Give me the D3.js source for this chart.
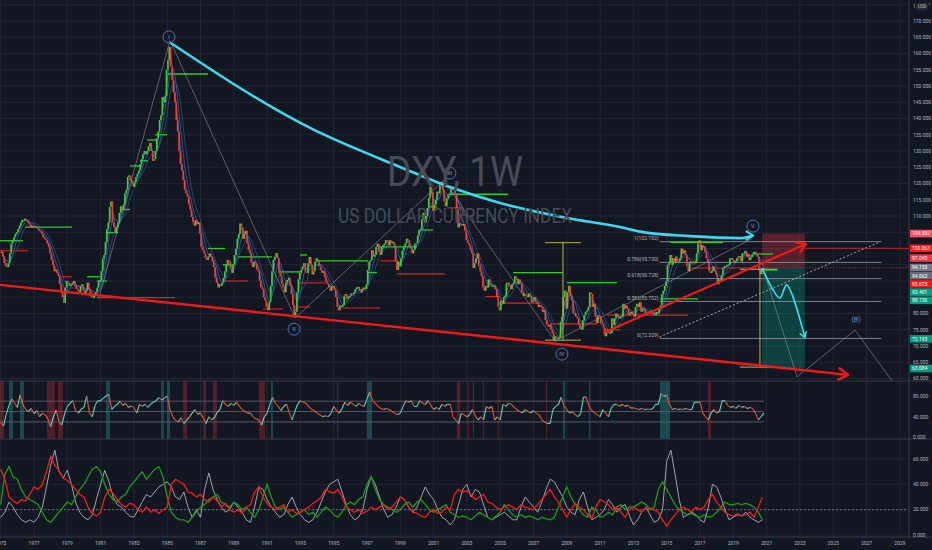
<!DOCTYPE html>
<html>
<head>
<meta charset="utf-8">
<script src="https://cdn.jsdelivr.net/npm/d3@7"></script>
<style>
body { margin: 0; background: #131722; overflow: hidden; }
text { font-family: Roboto, "Liberation Sans", sans-serif; }
</style>
</head>
<body>
<script>
// DXY monthly closes, Jan 1975 .. Nov 2020
var closes = [
 99.0, 97.5, 95.5, 94.5, 94.3, 95.5, 98.5, 101.5, 102.6, 103.5, 104.5, 105.0,
 106.0, 107.0, 108.0, 108.8, 108.5, 109.2, 108.8, 108.0, 107.5, 106.5, 107.0, 106.6,
 106.8, 106.5, 106.0, 105.5, 105.2, 104.5, 103.5, 103.0, 102.6, 101.5, 100.5, 98.5,
 96.5, 95.0, 93.0, 93.5, 92.5, 91.5, 89.0, 86.5, 85.0, 83.2, 88.0, 90.0,
 89.5, 88.5, 88.8, 89.4, 90.0, 88.5, 87.5, 87.0, 86.5, 88.5, 89.0, 87.0,
 86.2, 87.0, 89.5, 87.5, 85.5, 85.0, 84.8, 86.0, 86.5, 88.0, 90.0, 90.3,
 93.0, 97.0, 98.0, 102.0, 106.0, 108.0, 112.8, 114.5, 108.0, 106.6, 105.0, 106.6,
 108.0, 111.0, 113.0, 112.0, 113.5, 117.0, 118.0, 122.0, 122.5, 121.0, 120.0, 119.0,
 120.5, 122.0, 123.0, 124.0, 126.0, 127.5, 129.0, 130.0, 129.0, 130.0, 131.5, 132.5,
 130.0, 127.0, 127.5, 130.0, 134.0, 136.0, 139.5, 141.0, 146.6, 145.0, 147.0, 155.0,
 158.0, 162.0, 156.0, 151.8, 148.0, 145.0, 139.5, 136.0, 130.0, 126.0, 124.0, 121.0,
 118.0, 117.0, 116.0, 113.5, 112.0, 109.7, 108.0, 107.0, 108.8, 107.5, 108.0, 104.5,
 100.5, 99.5, 98.5, 97.0, 96.5, 97.5, 98.5, 97.5, 96.0, 94.3, 91.0, 89.5,
 88.0, 89.0, 88.5, 89.5, 91.0, 93.0, 95.0, 96.5, 96.0, 94.0, 92.5, 95.0,
 98.0, 100.0, 103.0, 104.5, 107.7, 106.5, 103.0, 104.5, 105.5, 101.5, 99.5, 98.6,
 95.5, 94.3, 96.0, 95.5, 93.5, 93.0, 90.0, 88.0, 87.5, 85.0, 84.0, 82.0,
 81.0, 83.5, 88.5, 93.0, 96.5, 97.5, 98.6, 97.0, 93.0, 91.5, 89.0, 88.0,
 86.5, 89.5, 90.3, 91.0, 88.5, 86.0, 82.5, 79.0, 80.5, 86.5, 90.5, 92.5,
 93.5, 94.5, 95.5, 93.0, 92.5, 95.5, 97.4, 95.0, 92.0, 93.0, 96.0, 97.0,
 96.5, 94.5, 93.4, 92.5, 93.0, 91.2, 89.5, 89.0, 88.0, 87.0, 88.5, 88.5,
 87.2, 85.0, 82.0, 81.0, 82.5, 82.0, 82.5, 85.5, 86.0, 84.5, 85.0, 85.5,
 86.2, 86.0, 86.5, 87.5, 88.0, 88.2, 87.0, 86.5, 87.5, 88.0, 87.5, 89.0,
 93.4, 96.0, 96.5, 99.5, 97.5, 98.0, 100.5, 101.5, 99.0, 98.0, 100.5, 101.0,
 101.5, 102.6, 102.5, 101.0, 102.5, 101.7, 102.0, 101.0, 96.0, 93.4, 96.0, 94.5,
 97.0, 99.5, 100.5, 101.5, 103.0, 102.6, 100.5, 100.0, 98.5, 99.5, 101.5, 101.8,
 104.0, 105.7, 106.0, 109.0, 111.0, 108.0, 110.0, 112.5, 115.5, 119.0, 117.5, 111.5,
 113.5, 115.0, 117.5, 117.0, 119.5, 120.5, 118.0, 114.5, 113.0, 115.5, 116.5, 117.0,
 118.5, 119.0, 118.0, 116.5, 112.0, 106.5, 107.8, 107.5, 107.0, 107.5, 105.5, 102.5,
 101.7, 101.0, 99.5, 98.5, 94.0, 95.5, 97.0, 98.5, 94.5, 93.0, 91.5, 88.0,
 87.0, 88.5, 88.0, 90.5, 89.0, 88.5, 88.5, 88.5, 87.5, 85.0, 82.0, 81.0,
 84.0, 83.0, 85.0, 85.5, 89.4, 89.5, 88.5, 87.5, 89.0, 89.5, 91.5, 91.0,
 89.0, 90.5, 89.5, 86.5, 85.5, 86.0, 85.5, 85.0, 86.2, 85.5, 83.5, 84.0,
 85.0, 83.5, 83.0, 82.0, 82.5, 82.0, 80.5, 81.0, 78.0, 76.5, 76.0, 76.5,
 75.0, 74.0, 71.8, 73.0, 72.5, 72.5, 72.5, 77.5, 79.0, 85.0, 87.0, 81.5,
 86.5, 88.5, 85.5, 84.0, 80.0, 80.0, 79.0, 78.5, 76.5, 75.5, 75.0, 78.0,
 79.5, 80.5, 81.0, 82.0, 86.5, 86.0, 82.0, 83.0, 79.0, 77.0, 79.5, 79.0,
 77.0, 76.5, 75.5, 73.0, 74.5, 74.5, 74.0, 74.0, 78.5, 76.5, 78.5, 80.0,
 79.0, 78.5, 79.0, 79.0, 83.0, 81.5, 82.5, 81.5, 79.5, 80.0, 80.5, 79.8,
 79.0, 82.0, 83.0, 82.0, 83.5, 80.5, 81.5, 81.5, 80.0, 80.0, 80.5, 80.0,
 81.0, 80.0, 80.0, 79.5, 80.5, 80.0, 81.5, 82.5, 86.0, 87.0, 88.5, 90.0,
 95.0, 95.5, 98.0, 95.0, 97.0, 95.5, 97.5, 96.0, 96.0, 97.0, 100.0, 98.5,
 99.5, 98.0, 94.5, 93.0, 95.8, 96.0, 95.5, 96.0, 95.5, 98.5, 101.5, 102.5,
 99.5, 101.0, 100.5, 99.0, 97.0, 95.5, 93.0, 92.5, 93.0, 94.5, 93.0, 92.0,
 89.0, 90.5, 90.0, 91.8, 94.0, 94.5, 94.5, 95.0, 95.0, 97.0, 97.0, 96.5,
 95.5, 96.0, 97.0, 97.5, 97.7, 96.0, 98.5, 98.5, 99.3, 97.5, 98.3, 96.4,
 97.3, 98.2, 98.9, 99.0, 98.3, 97.4, 93.3, 92.1, 93.9, 94.0, 93.5
];

// oscillator in the middle pane, 6 readings per year from 1975
var rsi = [
 30, 22, 45, 62, 74, 66,  58, 82, 63, 54, 50, 56,  46, 52, 40, 47, 44, 36,
 21, 40, 53, 30, 24, 45,  60, 66, 71, 52, 47, 55,  58, 80, 47, 40, 62, 71,
 71, 76, 80, 83, 54, 60,  64, 70, 62, 66, 58, 61,  58, 47, 64, 60, 64, 58,
 64, 68, 71, 77, 72, 76,  80, 54, 40, 33, 30, 38,  27, 33, 40, 47, 54, 45,
 47, 37, 27, 40, 34, 38,  48, 54, 71, 64, 60, 66,  62, 68, 60, 54, 50, 47,
 47, 40, 36, 34, 24, 40,  47, 64, 77, 66, 60, 52,  60, 64, 48, 34, 50, 64,
 71, 68, 66, 60, 54, 52,  47, 44, 40, 42, 40, 46,  60, 52, 47, 56, 68, 62,
 68, 64, 60, 66, 62, 60,  75, 88, 71, 66, 60, 56,  54, 56, 54, 50, 47, 44,
 47, 60, 71, 68, 71, 60,  60, 71, 66, 64, 71, 62,  54, 58, 54, 64, 60, 64,
 64, 40, 33, 27, 47, 44,  40, 44, 54, 42, 34, 40,  34, 60, 56, 60, 34, 40,
 34, 64, 60, 66, 64, 58,  54, 50, 47, 54, 50, 47,  52, 47, 44, 34, 30, 27,
 27, 54, 60, 64, 78, 60,  54, 47, 50, 44, 40, 46,  78, 78, 60, 52, 47, 44,
 40, 54, 47, 40, 56, 64,  64, 60, 64, 60, 62, 57,  57, 56, 54, 56, 54, 55,
 54, 56, 64, 64, 85, 79,  82, 64, 54, 56, 54, 55,  54, 56, 54, 54, 68, 68,
 68, 47, 40, 34, 47, 54,  47, 50, 71, 71, 62, 58,  60, 56, 62, 58, 60, 56,
 58, 56, 47, 34, 40, 47
];
var rsiLevels = [70, 50, 30];
var rsiHot = [[1975.5, 1975.74], [1976.16, 1976.4], [1981.32, 1981.56], [1984.63, 1984.8],
  [1984.99, 1985.17], [1991.23, 1991.35], [1997.0, 1997.3], [2008.77, 2008.9],
  [2010.33, 2010.42], [2014.6, 2015.2]];
var rsiCold = [[1974.96, 1975.2], [1977.78, 1978.26], [1978.44, 1978.74], [1985.95, 1986.19],
  [1987.15, 1987.33], [1987.75, 1987.99], [1990.51, 1990.87], [1995.2, 1995.27],
  [2002.4, 2002.6], [2003.05, 2003.1], [2003.35, 2003.4], [2003.95, 2004.0],
  [2004.85, 2004.9], [2007.75, 2007.82], [2017.48, 2017.66]];

// bottom pane, 4 readings per year from 1975
var diMinus = [
 52, 44, 30, 27,  25, 28, 27, 32,  38, 36, 40, 50,  62, 55, 51, 45,  43, 40, 36, 32,
 30, 22, 17, 15,  18, 30, 36, 33,  28, 24, 22, 25,  24, 20, 18, 22,  18, 20, 17, 20,
 22, 40, 44, 42,  40, 34, 33, 30,  32, 28, 26, 30,  27, 22, 25, 20,  18, 20, 17, 22,
 24, 34, 38, 30,  25, 22, 20, 22,  24, 18, 20, 17,  18, 20, 22, 25,  27, 30, 36, 34,
 33, 36, 30, 22,  20, 18, 20, 17,  19, 22, 20, 22,  24, 20, 22, 26,  30, 28, 22, 18,
 17, 15, 14, 18,  20, 17, 18, 22,  20, 32, 36, 34,  35, 32, 28, 30,  32, 26, 25, 22,
 20, 22, 24, 22,  20, 24, 22, 21,  20, 24, 28, 32,  36, 30, 26, 20,  14, 20, 25, 22,
 20, 16, 13, 22,  28, 26, 24, 20,  22, 18, 14, 20,  22, 20, 18, 22,  21, 20, 18, 12,
 7, 12, 16, 20,  22, 20, 18, 22,  20, 22, 28, 32,  26, 22, 18, 16,  15, 17, 15, 16,
 18, 14, 22, 30
];
var diPlus = [
 24, 48, 54, 46,  44, 36, 30, 28,  26, 24, 18, 12,  10, 14, 18, 22,  26, 24, 30, 36,
 40, 46, 52, 54,  50, 40, 32, 28,  26, 30, 32, 38,  42, 46, 50, 44,  48, 52, 54, 46,
 30, 18, 14, 12,  12, 10, 14, 18,  22, 24, 28, 30,  32, 26, 24, 22,  26, 24, 20, 22,
 18, 14, 20, 30,  40, 30, 22, 20,  22, 18, 14, 16,  18, 20, 16, 18,  14, 18, 22, 20,
 16, 14, 18, 24,  26, 24, 28, 30,  40, 46, 36, 28,  24, 22, 20, 18,  20, 24, 26, 22,
 26, 28, 24, 20,  18, 20, 22, 24,  18, 16, 14, 15,  14, 12, 15, 18,  16, 14, 12, 15,
 18, 24, 20, 16,  14, 16, 14, 15,  14, 12, 14, 13,  12, 14, 22, 30,  38, 30, 24, 20,
 16, 14, 22, 20,  14, 15, 18, 16,  22, 24, 20, 22,  22, 24, 26, 24,  20, 22, 36, 42,
 36, 30, 24, 20,  18, 16, 17, 15,  14, 16, 14, 15,  18, 22, 26, 24,  24, 25, 24, 25,
 24, 22, 18, 12
];
var adx = [
 14, 18, 26, 22,  16, 12, 10, 12,  10, 14, 22, 38,  55, 67, 50, 45,  51, 40, 26, 18,
 14, 12, 16, 28,  40, 51, 42, 30,  24, 22, 18, 15,  14, 20, 26, 32,  30, 34, 38, 40,
 42, 38, 30, 28,  34, 22, 14, 20,  14, 36, 49, 36,  28, 22, 18, 20,  26, 22, 18, 12,
 10, 22, 38, 36,  28, 22, 18, 14,  16, 24, 30, 22,  16, 12, 10, 12,  18, 26, 34, 40,
 42, 44, 34, 24,  16, 12, 14, 20,  36, 46, 40, 30,  20, 14, 16, 22,  30, 28, 22, 18,
 22, 30, 38, 32,  28, 20, 14, 12,  8, 12, 24, 36,  40, 30, 36, 34,  24, 14, 12, 14,
 16, 18, 15, 12,  12, 22, 30, 26,  22, 18, 26, 36,  44, 42, 36, 30,  22, 18, 16, 28,
 34, 22, 12, 14,  16, 20, 28, 24,  18, 22, 24, 16,  8, 12, 18, 22,  16, 10, 12, 20,
 58, 67, 48, 28,  14, 16, 18, 16,  12, 10, 22, 40,  38, 30, 20, 12,  14, 16, 15, 18,
 14, 12, 10, 12
];

var yearTicks = [1975, 1977, 1979, 1981, 1983, 1985, 1987, 1989, 1991, 1993, 1995, 1997, 1999,
  2001, 2003, 2005, 2007, 2009, 2011, 2013, 2015, 2017, 2019, 2021, 2023, 2025, 2027, 2029];
var priceTicks = [60, 65, 70, 75, 80, 110, 115, 120, 125, 130, 135, 140, 145, 150, 155, 160, 165, 170];
var rsiTicks = [0, 40, 80];
var dmiTicks = [0, 20, 40, 60];

// pivot high / low segments: [from, to, level]
var pivotHighs = [[1974.96, 1976.34, 102.4], [1976.46, 1979.28, 106.6], [1980.18, 1980.96, 91.3],
  [1980.78, 1981.38, 90], [1981.32, 1982.05, 104.9], [1982.17, 1982.77, 112], [1982.77, 1983.49, 125.4],
  [1983.37, 1983.85, 127], [1983.79, 1984.45, 133.4], [1984.27, 1984.99, 135], [1985.05, 1987.45, 153.7],
  [1987.45, 1988.47, 100], [1988.35, 1988.95, 95], [1989.25, 1991.29, 97.4], [1991.65, 1992.98, 92.8],
  [1992.98, 1993.4, 98], [1994.0, 1997.06, 96.2], [1997.06, 1997.6, 92.6], [1997.66, 2000.0, 100.5],
  [2000.18, 2000.96, 105.7], [2000.78, 2001.2, 112.8], [2001.98, 2005.47, 116.7], [2005.77, 2008.77, 92.6],
  [2009.01, 2012.02, 89.5], [2014.6, 2016.88, 84.5], [2015.2, 2018.38, 101.9], [2020.18, 2021.38, 98.3],
  [2020.6, 2021.68, 93.4]];
var pivotLows = [[1974.96, 1976.64, 99.3], [1978.68, 1979.28, 91.3], [1980.78, 1985.47, 84.9],
  [1988.35, 1989.85, 90], [1990.75, 1991.95, 81.4], [1992.56, 1993.58, 82], [1992.98, 1994.48, 89.4],
  [1995.5, 1997.78, 81.7], [1997.78, 1998.8, 96.2], [1998.8, 2001.68, 92.2], [2001.8, 2002.77, 112.5],
  [2002.4, 2003.0, 110.3], [2004.09, 2004.99, 85.2], [2005.17, 2007.39, 83.2], [2007.99, 2010.81, 76.8],
  [2011.17, 2012.2, 75], [2011.41, 2016.28, 79.5], [2016.4, 2020.42, 94]];

// drawings
var cyanCurve = [[1985.17, 163.4], [1993.58, 137.1], [1998.98, 125.1], [2001.98, 118.9], [2004.99, 114.0],
  [2009.0, 109.4], [2012.2, 106.6], [2013.4, 105.2], [2016.4, 103.8], [2019.4, 103.2], [2020.2, 104.0]];
var cyanProjection = [[2020.73, 94.0], [2021.8, 84.8], [2022.2, 88.8], [2023.3, 72.6]];
var supportLine = [[1974.96, 88.8], [2025.9, 61.1]];
var risingLine = [[2011.17, 74.0], [2023.37, 101.4]];
var dottedLine = [[2014.57, 72.8], [2027.8, 102.0]];
var waveLine = [[1980.9, 85], [1985.17, 164.0], [1992.68, 78.6], [2001.6, 121.0], [2008.3, 71.5], [2020.1, 103]];
var projectedWave = [[2020.78, 94.0], [2022.83, 60.5], [2026.31, 74.9], [2028.59, 58.9]];
var waveLabels = [["I", 1985.11, 165.1, true], ["II", 1992.62, 75.2, true], ["III", 2001.98, 123.2, true],
  ["IV", 2008.71, 67.5, true], ["V", 2020.18, 106.9, true], ["(B)", 2026.37, 78.0, false]];
var fibLevels = [["1", 102.102], ["0.786", 95.730], ["0.618", 90.728], ["0.382", 83.702], ["0", 72.329]];
var fibSpan = [2014.57, 2027.9];
var measures = [{ x: 2008.77, top: 101.8, bottom: 71.8, from: 2007.69, to: 2009.85 },
  { x: 2020.6, top: 93.6, bottom: 63.5, from: 2019.4, to: 2021.6 }];
var trade = { from: 2020.73, to: 2023.3, entry: 94.153, stop: 104.592, target: 63.084 };
var priceTags = [[104.592, "#f7525f"], [100.063, "#ff1a1a"], [97.045, "#f23645"], [94.153, "#787b86"],
  [94.063, "#6a6d78"], [93.673, "#e91c1c"], [93.401, "#089981"], [88.136, "#089981"],
  [72.193, "#089981"], [63.084, "#089981"]];

var w = 932, h = 550;
var plotR = 909;
var mainBottom = 381, rsiTop = 381, rsiBottom = 439, dmiTop = 439, dmiBottom = 537;

var svg = d3.select("body").append("svg")
    .attr("width", w)
    .attr("height", h);

svg.append("rect").attr("width", w).attr("height", h).attr("fill", "#131722");

var x = d3.scaleLinear().domain([1977, 2029]).range([34, 899.8]);
var yP = d3.scaleLinear().domain([60, 170]).range([378.5, 21]);
var yR = d3.scaleLinear().domain([0, 80]).range([437.5, 396]);
var yD = d3.scaleLinear().domain([0, 60]).range([535, 459]);

var monthT = closes.map(function(d, i) { return 1975 + i / 12 + 1 / 24; });
var rsiT = rsi.map(function(d, i) { return 1975 + i / 6; });
var dmiT = adx.map(function(d, i) { return 1975 + i / 4; });

var defs = svg.append("defs");
defs.append("clipPath").attr("id", "clipMain").append("rect")
    .attr("x", 0).attr("y", 0).attr("width", plotR).attr("height", mainBottom);
defs.append("clipPath").attr("id", "clipRsi").append("rect")
    .attr("x", 0).attr("y", rsiTop).attr("width", plotR).attr("height", rsiBottom - rsiTop);
defs.append("clipPath").attr("id", "clipDmi").append("rect")
    .attr("x", 0).attr("y", dmiTop).attr("width", plotR).attr("height", dmiBottom - dmiTop);

// grid
var grid = svg.append("g");
grid.selectAll("line.v").data(yearTicks).enter().append("line")
    .attr("x1", function(d) { return x(d); }).attr("x2", function(d) { return x(d); })
    .attr("y1", 0).attr("y2", dmiBottom)
    .attr("stroke", "#222633").attr("stroke-width", 1);
grid.selectAll("line.h").data(d3.range(60, 176, 5)).enter().append("line")
    .attr("x1", 0).attr("x2", plotR)
    .attr("y1", function(d) { return yP(d); }).attr("y2", function(d) { return yP(d); })
    .attr("stroke", "#222633").attr("stroke-width", 1);
grid.selectAll("line.d").data(dmiTicks).enter().append("line")
    .attr("x1", 0).attr("x2", plotR)
    .attr("y1", function(d) { return yD(d); }).attr("y2", function(d) { return yD(d); })
    .attr("stroke", "#222633");

// ---- main pane ----
var main = svg.append("g").attr("clip-path", "url(#clipMain)");

function line2(pts, sx, sy) {
    return d3.line().x(function(d) { return sx(d[0]); }).y(function(d) { return sy(d[1]); })(pts);
}

function arrowHead(g, p0, p1, len, color, width) {
    var a = Math.atan2(p1[1] - p0[1], p1[0] - p0[0]);
    var pts = [[p1[0] - len * Math.cos(a - 0.55), p1[1] - len * Math.sin(a - 0.55)], p1,
               [p1[0] - len * Math.cos(a + 0.55), p1[1] - len * Math.sin(a + 0.55)]];
    g.append("path").attr("d", d3.line()(pts))
        .attr("fill", "none").attr("stroke", color).attr("stroke-width", width)
        .attr("stroke-linecap", "round").attr("stroke-linejoin", "round");
}

// trade box
main.append("rect")
    .attr("x", x(trade.from)).attr("width", x(trade.to) - x(trade.from))
    .attr("y", yP(trade.stop)).attr("height", yP(trade.entry) - yP(trade.stop))
    .attr("fill", "rgba(242,54,69,0.3)");
main.append("rect")
    .attr("x", x(trade.from)).attr("width", x(trade.to) - x(trade.from))
    .attr("y", yP(trade.entry)).attr("height", yP(trade.target) - yP(trade.entry))
    .attr("fill", "rgba(8,153,129,0.32)");

// fibonacci levels
main.selectAll("line.fib").data(fibLevels).enter().append("line")
    .attr("x1", x(fibSpan[0])).attr("x2", x(fibSpan[1]))
    .attr("y1", function(d) { return yP(d[1]); }).attr("y2", function(d) { return yP(d[1]); })
    .attr("stroke", "#8a8e99").attr("stroke-width", 0.9);
main.selectAll("text.fib").data(fibLevels).enter().append("text")
    .attr("x", x(fibSpan[0]) - 1)
    .attr("y", function(d) { return yP(d[1]) - 1.5; })
    .attr("text-anchor", "end")
    .attr("font-size", "5px")
    .attr("fill", "#b2b5be")
    .text(function(d) { return d[0] + "(" + d[1].toFixed(3) + ")"; });

// dotted guide
main.append("path").attr("d", line2(dottedLine, x, yP))
    .attr("stroke", "#a5a8b2").attr("stroke-width", 1).attr("stroke-dasharray", "2,2").attr("fill", "none");

// stop line and current price line
main.append("line").attr("x1", x(trade.to)).attr("x2", plotR)
    .attr("y1", yP(100.063)).attr("y2", yP(100.063))
    .attr("stroke", "#e3242b").attr("stroke-width", 0.8);
main.append("line").attr("x1", x(2020.85)).attr("x2", plotR)
    .attr("y1", yP(94.063)).attr("y2", yP(94.063))
    .attr("stroke", "#e3242b").attr("stroke-width", 0.8).attr("stroke-dasharray", "1.5,1.5");

// pivot segments
main.selectAll("line.ph").data(pivotHighs).enter().append("line")
    .attr("x1", function(d) { return x(d[0]); }).attr("x2", function(d) { return x(d[1]); })
    .attr("y1", function(d) { return yP(d[2]); }).attr("y2", function(d) { return yP(d[2]); })
    .attr("stroke", "#2ecc2e").attr("stroke-width", 1.3);
main.selectAll("line.pl").data(pivotLows).enter().append("line")
    .attr("x1", function(d) { return x(d[0]); }).attr("x2", function(d) { return x(d[1]); })
    .attr("y1", function(d) { return yP(d[2]); }).attr("y2", function(d) { return yP(d[2]); })
    .attr("stroke", "#e02424").attr("stroke-width", 1.1);

// moving averages from the closes
function sma(n) {
    return closes.map(function(d, i) {
        return [monthT[i], d3.mean(closes.slice(Math.max(0, i - n + 1), i + 1))];
    });
}
[[3, "#5a8fd8"], [6, "#4a7bc4"], [10, "#36609e"]].forEach(function(m) {
    main.append("path").attr("d", line2(sma(m[0]), x, yP))
        .attr("fill", "none").attr("stroke", m[1])
        .attr("stroke-width", 0.8).attr("stroke-opacity", 0.75);
});

// candles
main.selectAll("rect.candle").data(closes).enter().append("rect")
    .attr("x", function(d, i) { return x(monthT[i]) - 0.8; })
    .attr("width", 1.6)
    .attr("y", function(d, i) {
        var o = i ? closes[i - 1] : d;
        return yP(Math.max(o, d));
    })
    .attr("height", function(d, i) {
        var o = i ? closes[i - 1] : d;
        return Math.max(1, Math.abs(yP(o) - yP(d)));
    })
    .attr("fill", function(d, i) {
        var o = i ? closes[i - 1] : d;
        return d >= o ? "#3bd43b" : "#f0403a";
    });

// elliott wave connectors
main.append("path").attr("d", line2(waveLine, x, yP))
    .attr("fill", "none").attr("stroke", "#9598a1").attr("stroke-width", 0.7).attr("stroke-opacity", 0.8);
main.append("path").attr("d", line2(projectedWave, x, yP))
    .attr("fill", "none").attr("stroke", "#9598a1").attr("stroke-width", 0.7).attr("stroke-opacity", 0.8);

// measure lines
measures.forEach(function(m) {
    main.append("line").attr("x1", x(m.x)).attr("x2", x(m.x))
        .attr("y1", yP(m.top)).attr("y2", yP(m.bottom))
        .attr("stroke", "#b8b44a").attr("stroke-width", 1);
    [m.top, m.bottom].forEach(function(v) {
        main.append("line").attr("x1", x(m.from)).attr("x2", x(m.to))
            .attr("y1", yP(v)).attr("y2", yP(v))
            .attr("stroke", "#b8b44a").attr("stroke-width", 1);
    });
});

// trend lines
main.append("path").attr("d", line2(supportLine, x, yP))
    .attr("stroke", "#f01a1a").attr("stroke-width", 2.4).attr("fill", "none");
arrowHead(main, [x(supportLine[0][0]), yP(supportLine[0][1])], [x(supportLine[1][0]), yP(supportLine[1][1])], 11, "#f01a1a", 2.4);
main.append("path").attr("d", line2(risingLine, x, yP))
    .attr("stroke", "#f01a1a").attr("stroke-width", 2.2).attr("fill", "none");
arrowHead(main, [x(risingLine[0][0]), yP(risingLine[0][1])], [x(risingLine[1][0]), yP(risingLine[1][1])], 10, "#f01a1a", 2.2);

var cyanGen = d3.line().x(function(d) { return x(d[0]); }).y(function(d) { return yP(d[1]); }).curve(d3.curveMonotoneX);
main.append("path").attr("d", cyanGen(cyanCurve))
    .attr("stroke", "#3fd8ec").attr("stroke-width", 2.6).attr("fill", "none");
var cn = cyanCurve.length;
arrowHead(main, [x(cyanCurve[cn - 3][0]), yP(cyanCurve[cn - 3][1])], [x(cyanCurve[cn - 1][0]), yP(cyanCurve[cn - 1][1])], 8, "#3fd8ec", 2);

var projGen = d3.line().x(function(d) { return x(d[0]); }).y(function(d) { return yP(d[1]); }).curve(d3.curveCatmullRom);
main.append("path").attr("d", projGen(cyanProjection))
    .attr("stroke", "#3fd8ec").attr("stroke-width", 1.6).attr("fill", "none");
var pn = cyanProjection.length;
arrowHead(main, [x(cyanProjection[pn - 2][0]), yP(cyanProjection[pn - 2][1])], [x(cyanProjection[pn - 1][0]), yP(cyanProjection[pn - 1][1])], 6, "#3fd8ec", 1.6);

// wave labels
waveLabels.forEach(function(d) {
    var cx = x(d[1]), cy = yP(d[2]);
    if (d[3]) {
        main.append("circle").attr("cx", cx).attr("cy", cy).attr("r", 6)
            .attr("fill", "none").attr("stroke", "#5b7bbd").attr("stroke-width", 0.9);
    }
    main.append("text").attr("x", cx).attr("y", cy + 2.2)
        .attr("text-anchor", "middle").attr("font-size", d[3] ? "6px" : "7px")
        .attr("fill", "#6f8fd6").text(d[0]);
});

// watermark
svg.append("text").attr("x", 387).attr("y", 186)
    .attr("font-size", "43px").attr("fill", "#474b57")
    .attr("textLength", 136).attr("lengthAdjust", "spacingAndGlyphs")
    .text("DXY, 1W");
svg.append("text").attr("x", 338).attr("y", 223)
    .attr("font-size", "21px").attr("fill", "#474b57")
    .attr("textLength", 234).attr("lengthAdjust", "spacingAndGlyphs")
    .text("US DOLLAR CURRENCY INDEX");

// ---- oscillator pane ----
var rsiG = svg.append("g").attr("clip-path", "url(#clipRsi)");
rsiG.selectAll("rect.hot").data(rsiHot).enter().append("rect")
    .attr("x", function(d) { return x(d[0]); })
    .attr("width", function(d) { return Math.max(1.2, x(d[1]) - x(d[0])); })
    .attr("y", rsiTop).attr("height", rsiBottom - rsiTop)
    .attr("fill", "rgba(38,166,154,0.35)");
rsiG.selectAll("rect.cold").data(rsiCold).enter().append("rect")
    .attr("x", function(d) { return x(d[0]); })
    .attr("width", function(d) { return Math.max(1.2, x(d[1]) - x(d[0])); })
    .attr("y", rsiTop).attr("height", rsiBottom - rsiTop)
    .attr("fill", "rgba(242,54,69,0.28)");
rsiG.selectAll("line.lvl").data(rsiLevels).enter().append("line")
    .attr("x1", 0).attr("x2", x(rsiT[rsiT.length - 1]))
    .attr("y1", function(d) { return yR(d); }).attr("y2", function(d) { return yR(d); })
    .attr("stroke", "#555965").attr("stroke-width", 1);
rsiG.selectAll("line.seg").data(rsi.slice(1)).enter().append("line")
    .attr("x1", function(d, i) { return x(rsiT[i]); })
    .attr("y1", function(d, i) { return yR(rsi[i]); })
    .attr("x2", function(d, i) { return x(rsiT[i + 1]); })
    .attr("y2", function(d) { return yR(d); })
    .attr("stroke", function(d, i) { return d >= rsi[i] ? "#5fd6c0" : "#ea5238"; })
    .attr("stroke-width", 1.1);

// ---- DMI pane ----
var dmiG = svg.append("g").attr("clip-path", "url(#clipDmi)");
dmiG.append("line").attr("x1", 0).attr("x2", plotR)
    .attr("y1", yD(20)).attr("y2", yD(20))
    .attr("stroke", "#6a6d78").attr("stroke-dasharray", "2,2");
var dmiLine = function(arr) {
    return d3.line().x(function(d, i) { return x(dmiT[i]); }).y(function(d) { return yD(d); })(arr);
};
dmiG.append("path").attr("d", dmiLine(adx)).attr("fill", "none").attr("stroke", "#c3c6ce").attr("stroke-width", 0.8);
dmiG.append("path").attr("d", dmiLine(diPlus)).attr("fill", "none").attr("stroke", "#1f9a1f").attr("stroke-width", 1.3);
dmiG.append("path").attr("d", dmiLine(diMinus)).attr("fill", "none").attr("stroke", "#f21c1c").attr("stroke-width", 1.3);

// pane separators and axes borders
[rsiTop, dmiTop, dmiBottom].forEach(function(yy) {
    svg.append("line").attr("x1", 0).attr("x2", w).attr("y1", yy).attr("y2", yy)
        .attr("stroke", "#363a45").attr("stroke-width", 1);
});
svg.append("line").attr("x1", plotR).attr("x2", plotR).attr("y1", 0).attr("y2", dmiBottom)
    .attr("stroke", "#363a45");

// right axis labels
function axisLabels(ticks, sy) {
    svg.append("g").selectAll("text").data(ticks).enter().append("text")
        .attr("x", 913).attr("y", function(d) { return sy(d) + 1.8; })
        .attr("font-size", "5px").attr("fill", "#b2b5be")
        .text(function(d) { return d.toFixed(3); });
}
axisLabels(priceTicks, yP);
axisLabels(rsiTicks, yR);
axisLabels(dmiTicks, yD);

// price tags, pushed apart like the platform stacks them
var tagY = [];
priceTags.forEach(function(d, i) {
    var yy = yP(d[0]);
    if (i && yy < tagY[i - 1] + 8.2) yy = tagY[i - 1] + 8.2;
    tagY.push(yy);
});
var tags = svg.append("g").selectAll("g").data(priceTags).enter().append("g");
tags.append("rect")
    .attr("x", plotR + 1).attr("width", w - plotR - 1)
    .attr("y", function(d, i) { return tagY[i] - 3.8; }).attr("height", 7.6)
    .attr("fill", function(d) { return d[1]; });
tags.append("text")
    .attr("x", 912).attr("y", function(d, i) { return tagY[i] + 1.8; })
    .attr("font-size", "5px").attr("fill", "#ffffff")
    .text(function(d) { return d[0].toFixed(3); });

// currency badge
svg.append("text").attr("x", 913).attr("y", 8).attr("font-size", "5px").attr("fill", "#b2b5be").text("1");
svg.append("rect").attr("x", 916.5).attr("y", 3).attr("width", 11).attr("height", 7).attr("rx", 1.5)
    .attr("fill", "#2a2e39");
svg.append("text").attr("x", 918).attr("y", 8.2).attr("font-size", "4.5px").attr("fill", "#b2b5be").text("USD");
svg.append("text").attr("x", 928.5).attr("y", 6).attr("font-size", "3.5px").attr("fill", "#b2b5be").text("?");

// time axis
svg.append("g").selectAll("text").data(yearTicks).enter().append("text")
    .attr("x", function(d) { return x(d); }).attr("y", 545)
    .attr("text-anchor", "middle")
    .attr("font-size", "5px").attr("fill", "#b2b5be")
    .text(function(d) { return d; });
</script>
</body>
</html>
